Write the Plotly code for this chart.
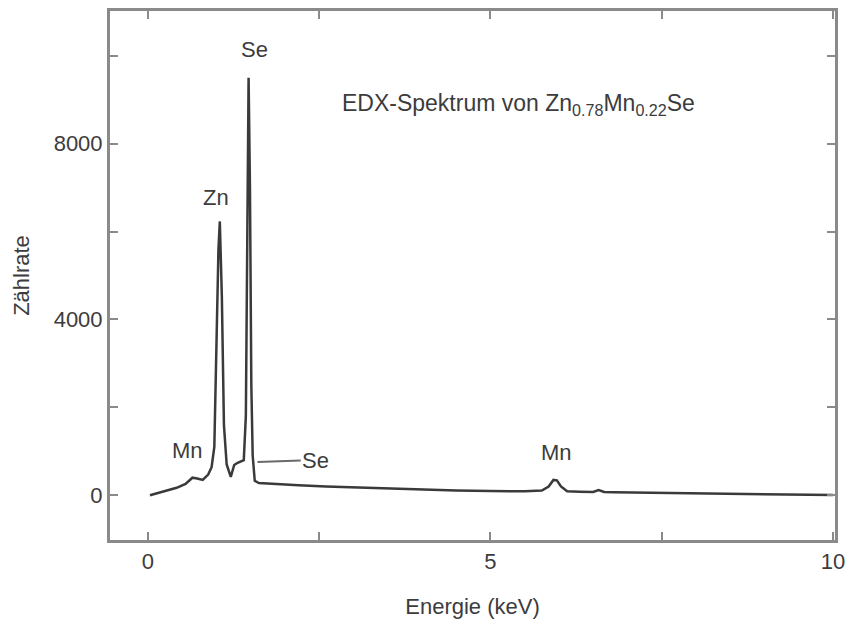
import plotly.graph_objects as go

# Spectrum data
energy_kev = [0.03, 0.2, 0.42, 0.55, 0.65, 0.72, 0.8, 0.88, 0.93, 0.97, 1.0, 1.03, 1.05, 1.08,
              1.11, 1.15, 1.21, 1.26, 1.31, 1.36, 1.40, 1.43, 1.45, 1.47, 1.49, 1.51, 1.53,
              1.56, 1.62, 1.8, 2.2, 2.6, 3.0, 3.5, 4.0, 4.5, 5.0, 5.5, 5.75, 5.85, 5.92,
              5.97, 6.03, 6.12, 6.3, 6.5, 6.58, 6.66, 6.8, 7.3, 8.0, 8.5, 9.0, 9.5, 10.0]
counts = [0, 70, 170, 260, 400, 380, 350, 470, 640, 1100, 3200, 5600, 6230, 4500,
          1600, 700, 420, 690, 740, 780, 800, 1800, 6500, 9500, 7000, 2500, 900,
          330, 280, 260, 230, 200, 180, 150, 130, 110, 95, 90, 110, 200, 350,
          340, 200, 90, 80, 75, 120, 75, 70, 58, 45, 35, 25, 15, 5]

x_major_step = 5
x_minor_step = 2.5
y_major_step = 4000
y_minor_step = 2000

peak_labels = ["Se", "Zn", "Mn", "Mn"]
peak_label_x = [1.56, 1.0, 0.58, 5.97]
peak_label_y = [10136, 6768, 1028, 983]

title_text = "EDX-Spektrum von Zn<sub>0.78</sub>Mn<sub>0.22</sub>Se"

FONT = "Liberation Sans, Arial, sans-serif"
FS = 22
AXIS_COLOR = "#8a8a8a"
LINE_COLOR = "#3a3a3a"
TEXT_COLOR = "#3c3c3c"

fig = go.Figure()
fig.add_trace(go.Scatter(x=energy_kev, y=counts, mode="lines",
                         line=dict(color=LINE_COLOR, width=2.5),
                         showlegend=False, hoverinfo="skip"))

annotations = []
for t, ax_, ay_ in zip(peak_labels, peak_label_x, peak_label_y):
    annotations.append(dict(x=ax_, y=ay_, xref="x", yref="y", text=t, showarrow=False,
                            font=dict(family=FONT, size=FS, color=TEXT_COLOR)))
# Se label with pointer line
annotations.append(dict(x=1.60, y=760, xref="x", yref="y", text="Se", showarrow=True,
                        arrowhead=0, arrowwidth=2, arrowcolor="#6a6a6a",
                        ax=2.45, ay=800, axref="x", ayref="y",
                        font=dict(family=FONT, size=FS, color=TEXT_COLOR)))
annotations.append(dict(x=5.41, y=8900, xref="x", yref="y", text=title_text,
                        showarrow=False, xanchor="center",
                        font=dict(family=FONT, size=23, color=TEXT_COLOR)))

axis_common = dict(showline=True, linecolor=AXIS_COLOR, linewidth=3, mirror="ticks",
                   ticks="inside", ticklen=8, tickwidth=2, tickcolor=AXIS_COLOR,
                   showgrid=False, zeroline=False, tickformat="d",
                   tickfont=dict(family=FONT, size=FS, color=TEXT_COLOR))

fig.update_layout(
    width=853, height=627,
    margin=dict(l=110, r=16, t=8, b=87),
    paper_bgcolor="white", plot_bgcolor="white",
    annotations=annotations,
    xaxis=dict(range=[-0.553, 10.03], tick0=0, dtick=x_major_step,
               minor=dict(dtick=x_minor_step, ticks="inside", ticklen=8,
                          tickwidth=2, tickcolor=AXIS_COLOR, showgrid=False),
               title=dict(text="Energie (keV)", standoff=26,
                          font=dict(family=FONT, size=FS, color=TEXT_COLOR)),
               **axis_common),
    yaxis=dict(range=[-1017, 11017], tick0=0, dtick=y_major_step,
               minor=dict(dtick=y_minor_step, ticks="inside", ticklen=8,
                          tickwidth=2, tickcolor=AXIS_COLOR, showgrid=False),
               title=dict(text="Zählrate", standoff=18,
                          font=dict(family=FONT, size=FS, color=TEXT_COLOR)),
               **axis_common),
)

fig.write_html("out.html")
